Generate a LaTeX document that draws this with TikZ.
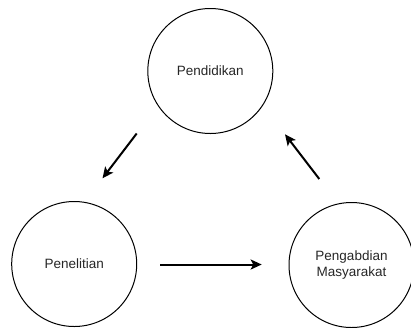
\documentclass[tikz,border=0pt]{standalone}
\usepackage{fontspec}
\setmainfont{Liberation Sans}
\usetikzlibrary{arrows.meta}
\begin{document}
\begin{tikzpicture}[x=1pt,y=-1pt,
  pillar/.style={circle,draw=black,line width=1pt,minimum size=125pt,inner sep=0pt,
    align=center,text=black!85,font=\fontsize{13.5}{16.3}\selectfont},
  flow/.style={line width=2pt,-{Stealth[length=11pt,width=10pt,inset=2.5pt]}}]
  \useasboundingbox (0,0) rectangle (411,327);
  % the three pillars
  \node[pillar] (pend) at (210.3,71) {Pendidikan};
  \node[pillar] (pene) at (74.2,264) {Penelitian};
  \node[pillar] (peng) at (351.5,265) {Pengabdian\\Masyarakat};
  % arrow end points between the circles
  \coordinate (a1s) at (136.7,133.5);
  \coordinate (a1e) at (102.5,178.3);
  \coordinate (a2s) at (160,264.5);
  \coordinate (a2e) at (261.7,264.5);
  \coordinate (a3s) at (319.3,179);
  \coordinate (a3e) at (285,134.3);
  \draw[flow] (a1s) -- (a1e);
  \draw[flow] (a2s) -- (a2e);
  \draw[flow] (a3s) -- (a3e);
\end{tikzpicture}
\end{document}
